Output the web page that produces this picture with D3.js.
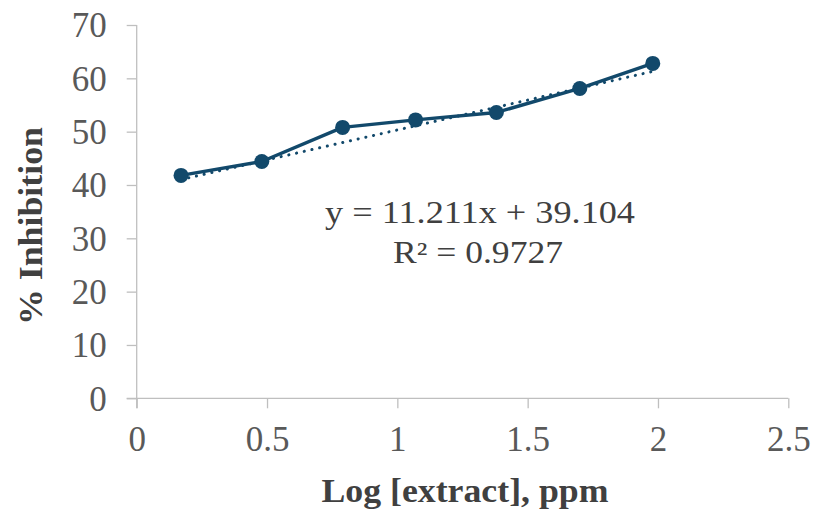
<!DOCTYPE html>
<html>
<head>
<meta charset="utf-8">
<script src="https://cdn.jsdelivr.net/npm/d3@7.9.0/dist/d3.min.js"></script>
<style>
  html, body { margin: 0; padding: 0; background: #fff; }
  svg { display: block; font-family: "Liberation Serif", "Times New Roman", serif; }
</style>
</head>
<body>
<svg id="chart" width="813" height="513"></svg>
<script>
/* ------------------------------ data ------------------------------ */
const logConc = [0.17, 0.48, 0.79, 1.07, 1.38, 1.70, 1.98];
const inhibition = [41.8, 44.4, 50.8, 52.2, 53.6, 58.1, 62.8];
const xTicks = [0, 0.5, 1, 1.5, 2, 2.5];
const yTicks = [0, 10, 20, 30, 40, 50, 60, 70];
const fitSlope = 11.211;
const fitIntercept = 39.104;
const eqLines = ["y = 11.211x + 39.104", "R² = 0.9727"];

/* ----------------------------- layout ----------------------------- */
const svg = d3.select("#chart");
const plotL = 136.7, plotR = 788.3, plotT = 25, plotB = 398.3;
const dark = "#12496b";
const axisGrey = "#bfbfbf";

const x = d3.scaleLinear().domain([0, 2.5]).range([plotL, plotR]);
const y = d3.scaleLinear().domain([0, 70]).range([plotB, plotT]);

// y axis
const yAxis = svg.append("g")
  .attr("transform", `translate(${plotL},0)`)
  .call(d3.axisLeft(y).tickValues(yTicks).tickSize(10).tickPadding(20).tickFormat(d3.format("d")));
yAxis.select(".domain").remove();
yAxis.append("line").attr("x1", 0).attr("x2", 0).attr("y1", plotT).attr("y2", plotB + 10)
  .attr("stroke", axisGrey).attr("stroke-width", 1.3);
yAxis.selectAll(".tick line").attr("stroke", axisGrey).attr("stroke-width", 1.3);
yAxis.selectAll(".tick text")
  .attr("font-size", 35).attr("fill", "#595959")
  .attr("font-family", "Liberation Serif, serif")
  .attr("dy", "0.34em");

// x axis
const xAxis = svg.append("g")
  .attr("transform", `translate(0,${plotB})`)
  .call(d3.axisBottom(x).tickValues(xTicks).tickSize(10).tickPadding(0).tickFormat(d => String(d)));
xAxis.select(".domain").remove();
xAxis.append("line").attr("x1", plotL - 10).attr("x2", plotR).attr("y1", 0).attr("y2", 0)
  .attr("stroke", axisGrey).attr("stroke-width", 1.3);
xAxis.selectAll(".tick line").attr("stroke", axisGrey).attr("stroke-width", 1.3);
xAxis.selectAll(".tick text")
  .attr("font-size", 35).attr("fill", "#595959")
  .attr("font-family", "Liberation Serif, serif")
  .attr("y", 52.7).attr("dy", 0);

/* ------------------------------ marks ----------------------------- */
const pts = logConc.map((v, i) => [v, inhibition[i]]);

// linear trendline from the printed equation, over the data range
const xMin = d3.min(logConc), xMax = d3.max(logConc);
svg.append("line")
  .attr("x1", x(xMin)).attr("y1", y(fitSlope * xMin + fitIntercept))
  .attr("x2", x(xMax)).attr("y2", y(fitSlope * xMax + fitIntercept))
  .attr("stroke", dark).attr("stroke-width", 3)
  .attr("stroke-linecap", "round").attr("stroke-dasharray", "0.1 7.8");

const line = d3.line().x(d => x(d[0])).y(d => y(d[1]));
svg.append("path").datum(pts)
  .attr("d", line).attr("fill", "none")
  .attr("stroke", dark).attr("stroke-width", 3.4).attr("stroke-linejoin", "round");

svg.selectAll("circle.pt").data(pts).enter().append("circle")
  .attr("class", "pt")
  .attr("cx", d => x(d[0])).attr("cy", d => y(d[1]))
  .attr("r", 7.5).attr("fill", dark);

/* ------------------------------ text ------------------------------ */
// trendline label (Excel draws it a bit wide)
const eqPos = [{ x: 480, y: 223, w: 310 }, { x: 478, y: 263, w: 170 }];
svg.selectAll("text.eq").data(eqLines).enter().append("text")
  .attr("class", "eq")
  .attr("x", (d, i) => eqPos[i].x)
  .attr("y", (d, i) => eqPos[i].y)
  .attr("text-anchor", "middle")
  .attr("font-size", 31).attr("fill", "#404040")
  .attr("textLength", (d, i) => eqPos[i].w)
  .attr("lengthAdjust", "spacingAndGlyphs")
  .text(d => d);

svg.append("text")
  .attr("x", 465).attr("y", 502)
  .attr("text-anchor", "middle")
  .attr("font-size", 34).attr("font-weight", "bold").attr("fill", "#404040")
  .attr("textLength", 287).attr("lengthAdjust", "spacingAndGlyphs")
  .text("Log [extract], ppm");

svg.append("text")
  .attr("transform", "translate(41.7,226) rotate(-90)")
  .attr("text-anchor", "middle")
  .attr("font-size", 34).attr("font-weight", "bold").attr("fill", "#404040")
  .attr("textLength", 198).attr("lengthAdjust", "spacingAndGlyphs")
  .text("% Inhibition");
</script>
</body>
</html>
